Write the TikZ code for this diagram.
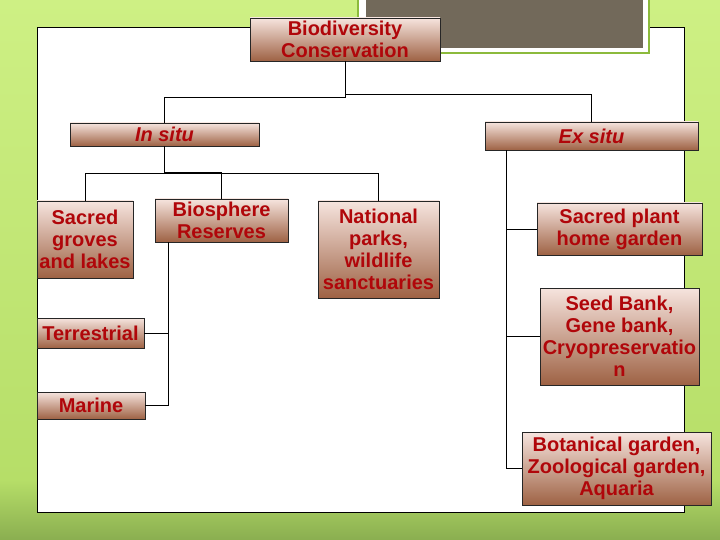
\documentclass[tikz,border=0pt]{standalone}
\usepackage{fontspec}
\setmainfont{Liberation Sans}
\definecolor{bgtop}{RGB}{206,240,132}
\definecolor{bgmid}{RGB}{182,222,104}
\definecolor{bgbot}{RGB}{138,174,80}
\definecolor{boxtop}{RGB}{246,228,222}
\definecolor{boxmid}{RGB}{222,189,174}
\definecolor{boxbot}{RGB}{158,98,68}
\definecolor{boxtext}{RGB}{176,6,10}
\definecolor{slate}{RGB}{114,105,90}
\definecolor{rim}{RGB}{140,186,60}

\begin{document}
\begin{tikzpicture}[x=1pt, y=-1pt,
  box/.style={draw=black!85, line width=0.8pt, top color=boxtop, middle color=boxmid,
    bottom color=boxbot, text=boxtext, align=center, inner sep=0pt,
    font=\fontsize{20}{22}\selectfont\bfseries},
  link/.style={draw=black, line width=0.9pt}]
\useasboundingbox (0,0) rectangle (720,540);
\shade[top color=bgtop, bottom color=bgmid] (0,0) rectangle (720,480);
\shade[top color=bgmid, bottom color=bgbot] (0,480) rectangle (720,540);
\filldraw[fill=white, draw=black, line width=0.9pt] (37,27) rectangle (684,512);
\fill[rim] (357,0) rectangle (650,54);
\fill[white] (359,0) rectangle (648,52);
\fill[slate] (366,0) rectangle (643,48);

\node[box, minimum width=190pt, minimum height=43pt] (bio) at (345,39.5) {Biodiversity\\Conservation};
\node[box, minimum width=189pt, minimum height=23pt, font=\fontsize{20}{22}\selectfont\bfseries\itshape] (insitu) at (164.5,134.5) {In situ};
\node[box, minimum width=213pt, minimum height=28pt, font=\fontsize{20}{22}\selectfont\bfseries\itshape] (exsitu) at (591.5,136) {Ex situ};
\node[box, minimum width=96pt, minimum height=77pt] (groves) at (85,239.5) {Sacred\\groves\\and lakes};
\node[box, minimum width=133pt, minimum height=43pt] (biosph) at (221.5,220.5) {Biosphere\\Reserves};
\node[box, minimum width=121pt, minimum height=97pt] (natpark) at (378.5,249.5) {National\\parks,\\wildlife\\sanctuaries};
\node[box, minimum width=107pt, minimum height=30pt] (terr) at (90.5,333) {Terrestrial};
\node[box, minimum width=108pt, minimum height=27pt] (marine) at (91,405.5) {Marine};
\node[box, minimum width=165pt, minimum height=52pt] (sacplant) at (619.5,229) {Sacred plant\\home garden};
\node[box, minimum width=159pt, minimum height=97pt] (seed) at (619.5,336.5) {Seed Bank,\\Gene bank,\\Cryopreservatio\\n};
\node[box, minimum width=189pt, minimum height=73pt] (botan) at (616.5,468.5) {Botanical garden,\\Zoological garden,\\Aquaria};

\draw[link] (bio.south) -- ++(0,36) -| (insitu.north);
\draw[link] (bio.south) ++(0,33) -| (exsitu.north);
\draw[link] (insitu.south) -- ++(0,26) -| (biosph.north);
\draw[link] (groves.north) -- ++(0,-27) -| (natpark.north);
\draw[link] (biosph.south west) ++(13.5,0) |- (terr.east);
\draw[link] (biosph.south west) ++(13.5,0) |- (marine.east);
\draw[link] (exsitu.south west) ++(21.5,0) |- (sacplant.west);
\draw[link] (exsitu.south west) ++(21.5,0) |- (seed.west);
\draw[link] (exsitu.south west) ++(21.5,0) |- (botan.west);
\end{tikzpicture}
\end{document}
